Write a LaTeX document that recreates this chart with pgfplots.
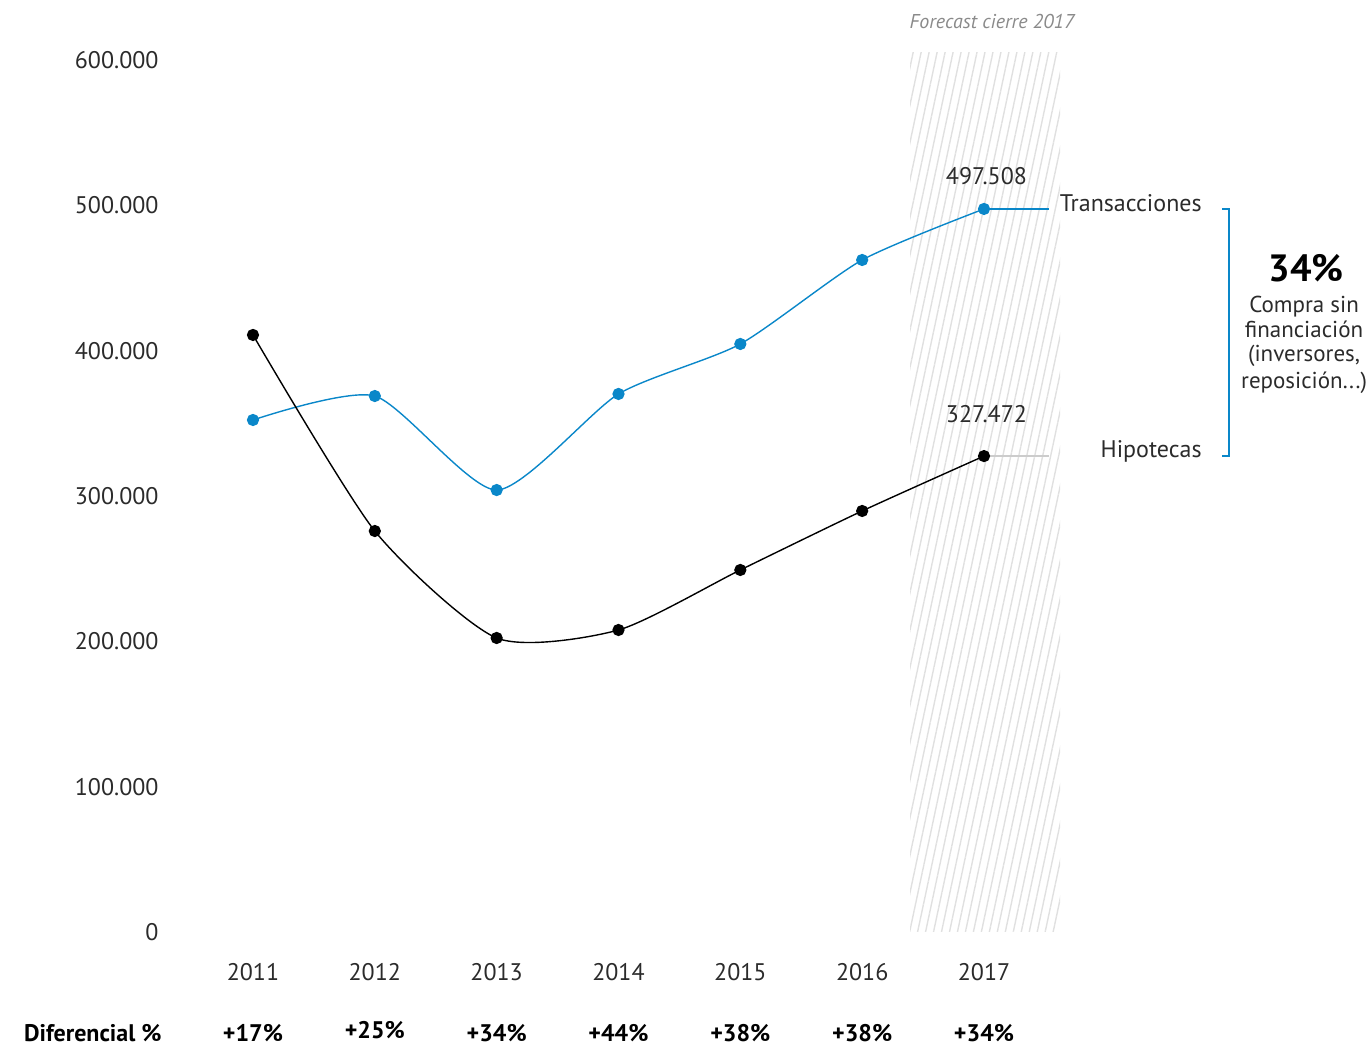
\documentclass[border=0pt]{standalone}
\usepackage{fontspec}
\setmainfont{PT Sans}
\usepackage{pgfplots}
\pgfplotsset{compat=1.18}
\usetikzlibrary{patterns.meta}

\definecolor{trans}{HTML}{0A87C9}
\definecolor{hatch}{HTML}{E0E0E0}
\definecolor{txt}{HTML}{2B2B2B}
\definecolor{note}{HTML}{8A8A8A}

\newcommand{\fs}[1]{\fontsize{#1}{#1}\selectfont}

\begin{document}
\begin{tikzpicture}[x=1pt,y=1pt]
\path[use as bounding box] (-83.85,-57.5) rectangle (601.15,466);
\begin{axis}[
  at={(0,0)}, anchor=south west,
  scale only axis, width=450.8pt, height=436pt,
  xmin=2010.3, xmax=2017.7, ymin=0, ymax=600000,
  clip=false,
  axis line style={draw=none}, tick style={draw=none},
  xtick={2011,2012,2013,2014,2015,2016,2017},
  xticklabels={2011,2012,2013,2014,2015,2016,2017},
  ytick={0,100000,200000,300000,400000,500000,600000},
  yticklabels={0,100.000,200.000,300.000,400.000,500.000,600.000},
  scaled y ticks=false,
  ticklabel style={font=\fs{12}, text=txt, inner sep=0pt},
  xticklabel style={anchor=base, yshift=-24.5pt},
  yticklabel style={anchor=east, xshift=-4.4pt},
]
% forecast band for 2017
\fill[pattern={Lines[angle=78,distance=3.9pt,line width=0.7pt]}, pattern color=hatch]
  (axis cs:2016.393,0) rectangle (axis cs:2017.624,605500);
\node[anchor=base, font=\fs{10}\itshape, text=note] at (axis cs:2017.066,622000) {Forecast cierre 2017};

% leader lines to the series names
\draw[trans, line width=0.7pt] (axis cs:2017,497508) -- (axis cs:2017.534,497508);
\draw[black!20, line width=0.7pt] (axis cs:2017,327472) -- (axis cs:2017.534,327472);

\addplot[trans, line width=0.7pt, smooth, tension=0.4, mark=*, mark size=2.7pt,
  mark options={solid, fill=trans, draw=none}]
  coordinates {(2011,352300)(2012,368800)(2013,304100)(2014,370200)(2015,404600)(2016,462400)(2017,497508)};
\addplot[black, line width=0.7pt, smooth, tension=0.4, mark=*, mark size=2.7pt,
  mark options={solid, fill=black, draw=none}]
  coordinates {(2011,410800)(2012,275900)(2013,202300)(2014,207800)(2015,249100)(2016,289700)(2017,327472)};

% end values
\node[font=\fs{12}, text=txt] at (axis cs:2017.02,520200) {497.508};
\node[font=\fs{12}, text=txt] at (axis cs:2017.02,356400) {327.472};

% series names
\node[anchor=east, inner sep=0pt, font=\fs{12}, text=txt] at (axis cs:2018.79,501500) {Transacciones};
\node[anchor=east, inner sep=0pt, font=\fs{12}, text=txt] at (axis cs:2018.79,331000) {Hipotecas};

% bracket and share without financing
\draw[trans, line width=0.7pt] (axis cs:2018.954,497508) -- (axis cs:2019.011,497508)
  -- (axis cs:2019.011,327472) -- (axis cs:2018.954,327472);
\node[anchor=base, inner sep=0pt, font=\fs{19}\bfseries] at (axis cs:2019.643,447900) {34\%};
\node[anchor=base, inner sep=0pt, font=\fs{11.5}, text=txt] at (axis cs:2019.627,426600) {Compra sin};
\node[anchor=base, inner sep=0pt, font=\fs{11.5}, text=txt] at (axis cs:2019.627,409400) {financiación};
\node[anchor=base, inner sep=0pt, font=\fs{11.5}, text=txt] at (axis cs:2019.627,392200) {(inversores,};
\node[anchor=base, inner sep=0pt, font=\fs{11.5}, text=txt] at (axis cs:2019.627,374300) {reposición...)};

% difference row
\node[anchor=base east, inner sep=0pt, font=\fs{12}\bfseries] at (axis cs:2010.253,0) [yshift=-55pt] {Diferencial \%};
\node[anchor=base, inner sep=0pt, font=\fs{12}\bfseries] at (axis cs:2011,0) [yshift=-55pt] {+17\%};
\node[anchor=base, inner sep=0pt, font=\fs{12}\bfseries] at (axis cs:2012,0) [yshift=-53.5pt] {+25\%};
\node[anchor=base, inner sep=0pt, font=\fs{12}\bfseries] at (axis cs:2013,0) [yshift=-55pt] {+34\%};
\node[anchor=base, inner sep=0pt, font=\fs{12}\bfseries] at (axis cs:2014,0) [yshift=-55pt] {+44\%};
\node[anchor=base, inner sep=0pt, font=\fs{12}\bfseries] at (axis cs:2015,0) [yshift=-55pt] {+38\%};
\node[anchor=base, inner sep=0pt, font=\fs{12}\bfseries] at (axis cs:2016,0) [yshift=-55pt] {+38\%};
\node[anchor=base, inner sep=0pt, font=\fs{12}\bfseries] at (axis cs:2017,0) [yshift=-55pt] {+34\%};
\end{axis}
\end{tikzpicture}
\end{document}
